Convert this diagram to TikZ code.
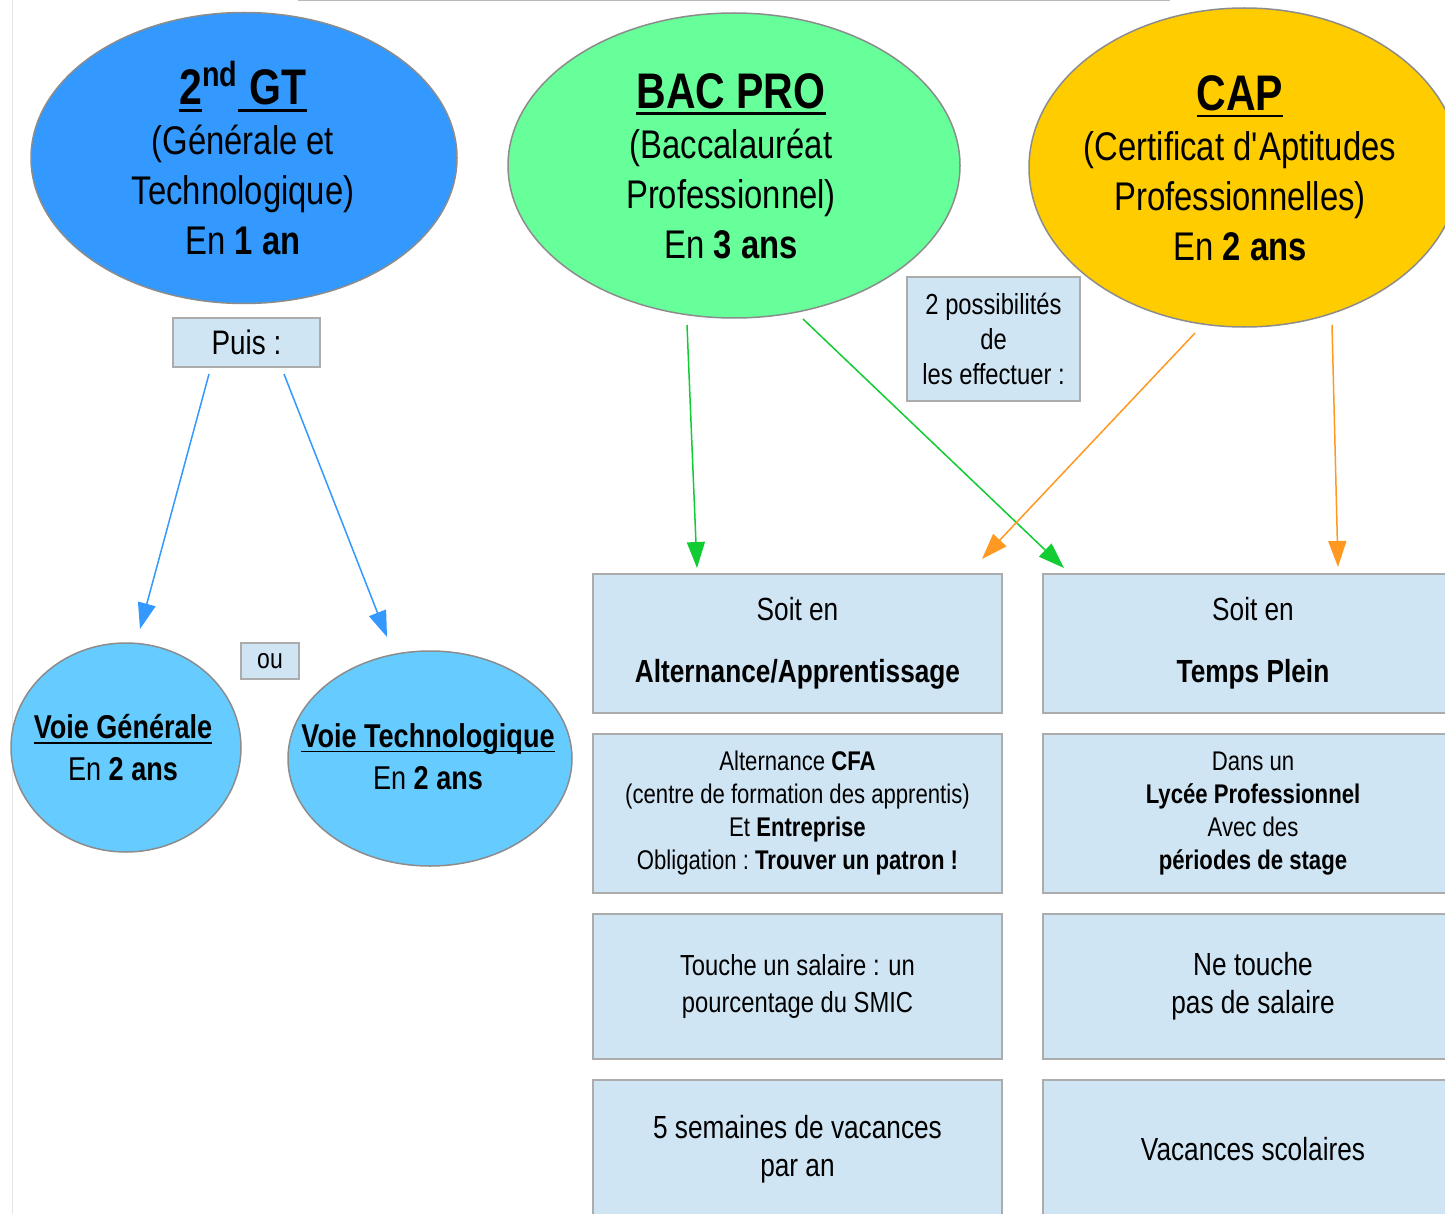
\documentclass[tikz,border=0pt]{standalone}
\usepackage{fontspec}
\setmainfont[FakeStretch=0.82]{Liberation Sans}
\usetikzlibrary{shapes.geometric,arrows.meta}
\definecolor{gtblue}{HTML}{3399FF}
\definecolor{bacgreen}{HTML}{66FF99}
\definecolor{capyellow}{HTML}{FFCC00}
\definecolor{voieblue}{HTML}{66CCFF}
\definecolor{boxblue}{HTML}{CFE5F3}
\definecolor{arrblue}{HTML}{3399FF}
\definecolor{arrgreen}{HTML}{11CC33}
\definecolor{arrorange}{HTML}{FF9922}
\definecolor{edgegray}{HTML}{8C8C8C}
\newcommand\fsz[2]{\fontsize{#1}{#2}\selectfont}
\newcommand\myul[1]{\setbox0\hbox{#1}\rlap{\rule[-0.14em]{\wd0}{0.055em}}\box0}
\begin{document}
\begin{tikzpicture}[x=0.5pt,y=-0.5pt,
  ellbox/.style={ellipse,draw=edgegray,line width=0.75pt,inner sep=0pt},
  txt/.style={align=center,inner sep=0pt,text=black},
  infobox/.style={rectangle,draw=gray!65,line width=1pt,fill=boxblue,inner sep=0pt,align=center},
  link/.style={line width=0.75pt,-{Triangle[length=13pt,width=9pt]}}]
\useasboundingbox (0,0) rectangle (1445,1214);
\fill[white] (0,0) rectangle (1445,1214);
% page edges
\draw[gray!20,line width=0.5pt] (12,0) -- (12,1214);
\draw[gray!55,line width=1pt] (298,0.5) -- (1170,0.5);

% ellipses
\node[ellbox,fill=gtblue,minimum width=213pt,minimum height=145.5pt] (gt) at (244,158) {};
\node[ellbox,fill=bacgreen,minimum width=226pt,minimum height=152.5pt] (bac) at (734,165.5) {};
\node[ellbox,fill=capyellow,minimum width=215.5pt,minimum height=159.5pt] (cap) at (1244.5,167.5) {};
\node[ellbox,fill=voieblue,minimum width=115pt,minimum height=104.5pt] (vg) at (126,747.5) {};
\node[ellbox,fill=voieblue,minimum width=142pt,minimum height=107.5pt] (vt) at (430,758.5) {};

% ellipse texts
\node[txt,font=\fsz{20}{25}] (gtt) at (243,158)
  {{\fsz{25}{25}\bfseries\myul{2}\textsuperscript{nd}\myul{\ GT}}\\
   (Générale et\\ Technologique)\\ En \textbf{1 an}};
\node[txt,font=\fsz{20}{25}] (bact) at (731,166)
  {{\fsz{25}{25}\bfseries\myul{BAC PRO}}\\
   (Baccalauréat\\ Professionnel)\\ En \textbf{3 ans}};
\node[txt,font=\fsz{20}{25}] (capt) at (1240,168)
  {{\fsz{25}{25}\bfseries\myul{CAP}}\\
   (Certificat d\textquotesingle Aptitudes\\ Professionnelles)\\ En \textbf{2 ans}};
\node[txt,font=\fsz{16.5}{21}] (vgt) at (123,748)
  {\textbf{\myul{Voie Générale}}\\ En \textbf{2 ans}};
\node[txt,font=\fsz{16.5}{21}] (vtt) at (428,757)
  {\textbf{\myul{Voie Technologique}}\\ En \textbf{2 ans}};

% small boxes
\node[infobox,minimum width=73.5pt,minimum height=24.5pt,font=\fsz{17}{20}] (puis) at (246.5,342.5) {Puis :};
\node[infobox,minimum width=86.5pt,minimum height=62pt,font=\fsz{14.5}{17.5}] (poss) at (993.5,339)
  {2 possibilités\\ de\\ les effectuer :};
\node[infobox,minimum width=29pt,minimum height=18pt,font=\fsz{14}{16}] (ou) at (270,661) {ou};

% left column
\node[infobox,minimum width=204.5pt,minimum height=69.5pt,font=\fsz{16}{31}] (l1) at (797.5,643.5)
  {Soit en\\ \textbf{Alternance/Apprentissage}};
\node[infobox,minimum width=204.5pt,minimum height=79.5pt,font=\fsz{13.5}{16.5}] (l2) at (797.5,813.5)
  {Alternance \textbf{CFA}\\ (centre de formation des apprentis)\\ Et \textbf{Entreprise}\\ Obligation :\ \textbf{Trouver un patron !}};
\node[infobox,minimum width=204.5pt,minimum height=72.5pt,font=\fsz{14.5}{18.5}] (l3) at (797.5,986.5)
  {Touche un salaire : un\\ pourcentage du SMIC};
\node[infobox,minimum width=204.5pt,minimum height=69pt,font=\fsz{16}{19}] (l4) at (797.5,1149)
  {5 semaines de vacances\\ par an};

% right column
\node[infobox,minimum width=210pt,minimum height=69.5pt,font=\fsz{16}{31}] (r1) at (1253,643.5)
  {Soit en\\ \textbf{Temps Plein}};
\node[infobox,minimum width=210pt,minimum height=79.5pt,font=\fsz{13.5}{16.5}] (r2) at (1253,813.5)
  {Dans un\\ \textbf{Lycée Professionnel}\\ Avec des\\ \textbf{périodes de stage}};
\node[infobox,minimum width=210pt,minimum height=72.5pt,font=\fsz{16}{19}] (r3) at (1253,986.5)
  {Ne touche\\ pas de salaire};
\node[infobox,minimum width=210pt,minimum height=69pt,font=\fsz{16}{19}] (r4) at (1253,1149)
  {Vacances scolaires};

% connector end points
\coordinate (b1s) at (209,374); \coordinate (b1e) at (140,629);
\coordinate (b2s) at (284,374); \coordinate (b2e) at (387,637);
\coordinate (g1s) at (687,325); \coordinate (g1e) at (697,568);
\coordinate (g2s) at (803,319); \coordinate (g2e) at (1064,568);
\coordinate (o1s) at (1195,333); \coordinate (o1e) at (982,559);
\coordinate (o2s) at (1332,325); \coordinate (o2e) at (1338,567);

\draw[link,arrblue] (b1s) -- (b1e);
\draw[link,arrblue] (b2s) -- (b2e);
\draw[link,arrgreen] (g1s) -- (g1e);
\draw[link,arrgreen] (g2s) -- (g2e);
\draw[link,arrorange] (o1s) -- (o1e);
\draw[link,arrorange] (o2s) -- (o2e);
\end{tikzpicture}
\end{document}
